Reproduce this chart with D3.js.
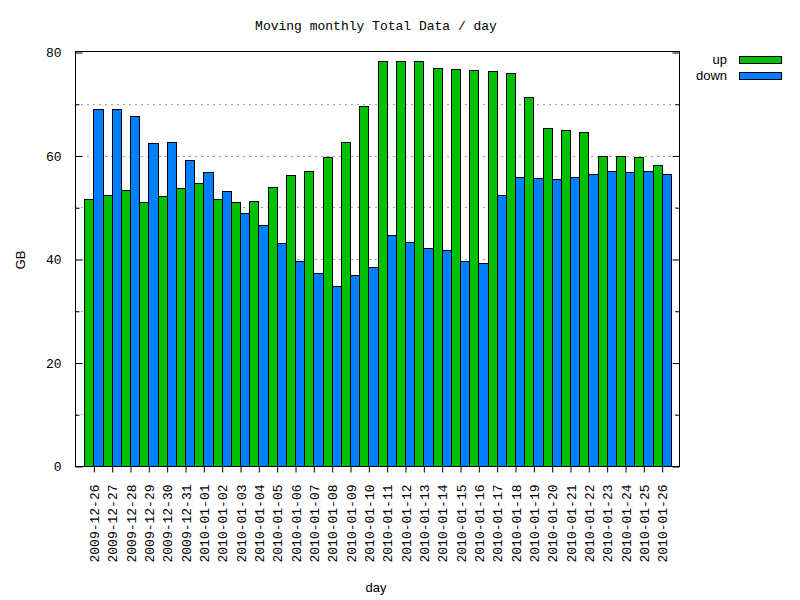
<!DOCTYPE html>
<html>
<head>
<meta charset="utf-8">
<script src="https://cdn.jsdelivr.net/npm/d3@7"></script>
<style>
  body { margin: 0; background: #fff; }
  .mono { font-family: "Liberation Mono", "DejaVu Sans Mono", monospace; font-size: 13px; }
  .sans { font-family: "Liberation Sans", Arial, sans-serif; font-size: 13px; }
</style>
</head>
<body>
<div id="chart"></div>
<script>
const days = ["2009-12-26","2009-12-27","2009-12-28","2009-12-29","2009-12-30","2009-12-31",
    "2010-01-01","2010-01-02","2010-01-03","2010-01-04","2010-01-05","2010-01-06","2010-01-07",
    "2010-01-08","2010-01-09","2010-01-10","2010-01-11","2010-01-12","2010-01-13","2010-01-14",
    "2010-01-15","2010-01-16","2010-01-17","2010-01-18","2010-01-19","2010-01-20","2010-01-21",
    "2010-01-22","2010-01-23","2010-01-24","2010-01-25","2010-01-26"];

const up = [51.5, 52.3, 53.3, 51.1, 52.1, 53.7, 54.6, 51.5, 51.0, 51.3, 54.0, 56.2, 57.1,
    59.7, 62.7, 69.5, 78.2, 78.2, 78.2, 77.0, 76.8, 76.5, 76.3, 75.9, 71.4, 65.4, 64.9,
    64.5, 60.0, 60.0, 59.8, 58.1];

const down = [68.9, 68.9, 67.6, 62.4, 62.7, 59.1, 56.8, 53.1, 48.8, 46.5, 43.0, 39.7, 37.2,
    34.8, 37.0, 38.4, 44.6, 43.2, 42.1, 41.7, 39.6, 39.2, 52.3, 55.8, 55.6, 55.4, 55.8,
    56.4, 57.1, 56.9, 57.1, 56.4];

const yTicks = [0, 20, 40, 60, 80];
const yMinor = [10, 30, 50, 70];

const series = [
    { name: "up", values: up, color: "#00c000", offset: -0.5 },
    { name: "down", values: down, color: "#0080ff", offset: 0 }
];

const W = 800, H = 600;
const plot = { left: 75, right: 680, top: 52, bottom: 466 };

const x = d3.scaleLinear().domain([-1, 32]).range([plot.left, plot.right]);
const y = d3.scaleLinear().domain([0, 80]).range([plot.bottom, plot.top]);

const svg = d3.select("#chart").append("svg")
    .attr("width", W)
    .attr("height", H);

// grid
svg.append("g")
    .selectAll("line")
    .data(yTicks.concat(yMinor).filter(d => d > 0 && d < 80))
    .join("line")
    .attr("x1", plot.left).attr("x2", plot.right)
    .attr("y1", d => Math.round(y(d)) + 0.5)
    .attr("y2", d => Math.round(y(d)) + 0.5)
    .attr("stroke", "#a0a0a0")
    .attr("stroke-width", 1)
    .attr("stroke-dasharray", "2,4");

// bars
series.forEach(s => {
    svg.append("g")
        .selectAll("rect")
        .data(s.values)
        .join("rect")
        .attr("x", (d, i) => Math.round(x(i + s.offset)) + 0.5)
        .attr("width", (d, i) => Math.round(x(i + s.offset + 0.5)) - Math.round(x(i + s.offset)))
        .attr("y", d => Math.round(y(d)) + 0.5)
        .attr("height", d => Math.round(y(0)) - Math.round(y(d)))
        .attr("fill", s.color)
        .attr("stroke", "#000")
        .attr("stroke-width", 1);
});

// y axis left and right (inward ticks)
const yAxisL = svg.append("g")
    .attr("transform", `translate(${plot.left + 0.5},0.5)`)
    .call(d3.axisLeft(y).tickValues(yTicks).tickSize(-7).tickPadding(14));
yAxisL.select(".domain").remove();
yAxisL.selectAll("text")
    .attr("font-family", "Liberation Mono, DejaVu Sans Mono, monospace")
    .attr("font-size", 13)
    .attr("fill", "#000");
yAxisL.selectAll(".tick line").attr("stroke", "#000");

svg.append("g")
    .attr("transform", `translate(${plot.left + 0.5},0.5)`)
    .call(d3.axisLeft(y).tickValues(yMinor).tickSize(-4).tickFormat(""))
    .select(".domain").remove();

const yAxisR = svg.append("g")
    .attr("transform", `translate(${plot.right - 0.5},0.5)`)
    .call(d3.axisRight(y).tickValues(yTicks).tickSize(-7).tickFormat(""));
yAxisR.select(".domain").remove();

svg.append("g")
    .attr("transform", `translate(${plot.right - 0.5},0.5)`)
    .call(d3.axisRight(y).tickValues(yMinor).tickSize(-4).tickFormat(""))
    .select(".domain").remove();

// x axis
const xAxis = svg.append("g")
    .attr("transform", `translate(0.5,${plot.bottom + 0.5})`)
    .call(d3.axisBottom(x).tickValues(d3.range(days.length)).tickSize(6)
        .tickFormat(i => days[i]));
xAxis.select(".domain").remove();
xAxis.selectAll(".tick line").attr("stroke", "#000");
xAxis.selectAll(".tick text")
    .attr("font-family", "Liberation Mono, DejaVu Sans Mono, monospace")
    .attr("font-size", 13)
    .attr("fill", "#000")
    .attr("transform", "rotate(-90)")
    .attr("text-anchor", "end")
    .attr("x", -18)
    .attr("y", 0)
    .attr("dy", "0.35em");

// frame
svg.append("rect")
    .attr("x", plot.left + 0.5).attr("y", plot.top - 0.5)
    .attr("width", plot.right - plot.left - 1).attr("height", plot.bottom - plot.top + 1)
    .attr("fill", "none")
    .attr("stroke", "#000")
    .attr("stroke-width", 1);

// title
svg.append("text")
    .attr("class", "mono")
    .attr("x", 376).attr("y", 30)
    .attr("text-anchor", "middle")
    .text("Moving monthly Total Data / day");

// axis titles
svg.append("text")
    .attr("class", "sans")
    .attr("x", 376).attr("y", 592)
    .attr("text-anchor", "middle")
    .text("day");

svg.append("text")
    .attr("class", "sans")
    .attr("transform", "translate(25,260) rotate(-90)")
    .attr("text-anchor", "middle")
    .text("GB");

// legend
const legend = svg.append("g");
series.forEach((s, i) => {
    const ly = 60 + i * 16;
    legend.append("text")
        .attr("class", "sans")
        .attr("x", 727).attr("y", ly + 4)
        .attr("text-anchor", "end")
        .text(s.name);
    legend.append("rect")
        .attr("x", 739.5).attr("y", ly - 3.5)
        .attr("width", 42).attr("height", 7)
        .attr("fill", s.color)
        .attr("stroke", "#000");
});
</script>
</body>
</html>
